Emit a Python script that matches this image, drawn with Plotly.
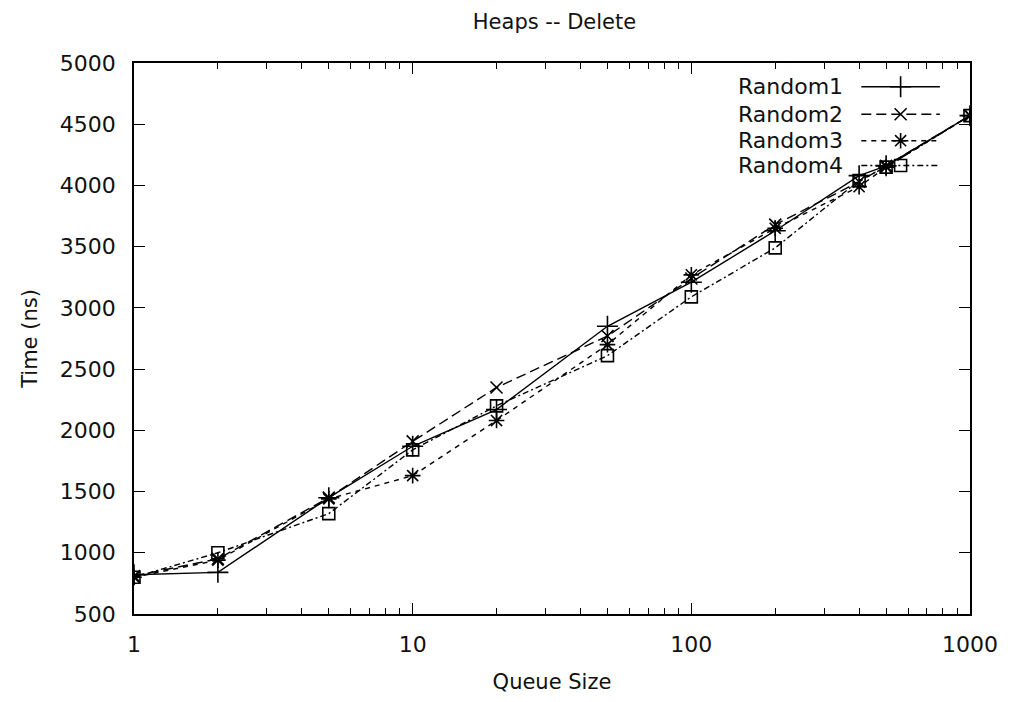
import plotly.graph_objects as go

# Queue sizes (log scale) and delete timings in nanoseconds
queue_sizes = [1, 2, 5, 10, 20, 50, 100, 200, 400, 500, 1000]
random1 = [820, 840, 1450, 1870, 2170, 2850, 3210, 3630, 4080, 4160, 4570]
random2 = [810, 950, 1450, 1910, 2350, 2770, 3240, 3680, 4030, 4160, 4570]
random3 = [800, 940, 1440, 1630, 2080, 2700, 3270, 3650, 3990, 4150, 4570]
random4 = [800, 1000, 1320, 1840, 2200, 2610, 3090, 3490, 4040, 4150, 4570]

series_names = ["Random1", "Random2", "Random3", "Random4"]
series_values = [random1, random2, random3, random4]

y_ticks = [500, 1000, 1500, 2000, 2500, 3000, 3500, 4000, 4500, 5000]
x_ticks = [1, 10, 100, 1000]
x_minor = [m * d for d in (1, 10, 100) for m in range(2, 10)]

FONT = "DejaVu Sans"
INK = "#111111"

styles = [
    dict(dash="solid", symbol="cross-thin-open", size=15),
    dict(dash="10px,5px", symbol="x-thin-open", size=12),
    dict(dash="5px,5px", symbol="asterisk-open", size=13),
    dict(dash="6px,3px,2px,3px", symbol="square-open", size=12),
]


def point_marker(st):
    return dict(symbol=st["symbol"], size=st["size"], color="black",
                line=dict(color="black", width=1.6))


fig = go.Figure()

for name, vals, st in zip(series_names, series_values, styles):
    fig.add_trace(go.Scatter(
        x=queue_sizes, y=vals, name=name, mode="lines+markers",
        line=dict(color="black", width=1.4, dash=st["dash"]),
        marker=point_marker(st),
        showlegend=False,
    ))

# Key in gnuplot style: label on the left, line sample with a point on the right
key_rows = [0.957, 0.907, 0.859, 0.814]
for name, st, ky in zip(series_names, styles, key_rows):
    fig.add_trace(go.Scatter(
        x=[0.870, 0.964], y=[ky, ky], mode="lines",
        line=dict(color="black", width=1.4, dash=st["dash"]),
        xaxis="x2", yaxis="y2", showlegend=False, hoverinfo="skip",
    ))
    fig.add_trace(go.Scatter(
        x=[0.917], y=[ky], mode="markers",
        marker=point_marker(st),
        xaxis="x2", yaxis="y2", showlegend=False, hoverinfo="skip",
    ))
    fig.add_annotation(
        text=name, x=0.851, y=ky, xref="paper", yref="paper",
        xanchor="right", yanchor="middle", showarrow=False,
        font=dict(family=FONT, size=22, color=INK),
    )

fig.update_layout(
    width=1010, height=702,
    margin=dict(l=134, r=35, t=63, b=85),
    paper_bgcolor="white", plot_bgcolor="white",
    font=dict(family=FONT, size=22, color=INK),
    title=dict(text="Heaps -- Delete", x=0.549, xanchor="center",
               y=1 - 22 / 702, yanchor="middle",
               font=dict(family=FONT, size=21, color=INK)),
    xaxis=dict(
        type="log", range=[0, 3],
        tickvals=x_ticks, ticktext=[str(v) for v in x_ticks],
        ticks="inside", ticklen=11, tickwidth=1.3, tickcolor="black",
        minor=dict(tickvals=x_minor, ticks="inside", ticklen=6,
                   tickwidth=1.2, tickcolor="black", showgrid=False),
        showline=True, linecolor="black", linewidth=1.5, mirror="allticks",
        showgrid=False, zeroline=False, ticklabelstandoff=10,
        title=dict(text="Queue Size", standoff=18,
                   font=dict(family=FONT, size=21, color=INK)),
    ),
    yaxis=dict(
        range=[500, 5000], tickvals=y_ticks,
        ticks="inside", ticklen=11, tickwidth=1.3, tickcolor="black",
        showline=True, linecolor="black", linewidth=1.5, mirror="allticks",
        showgrid=False, zeroline=False, ticklabelstandoff=12,
        title=dict(text="Time (ns)", standoff=16,
                   font=dict(family=FONT, size=21, color=INK)),
    ),
    xaxis2=dict(overlaying="x", range=[0, 1], visible=False),
    yaxis2=dict(overlaying="y", range=[0, 1], visible=False),
)

fig.write_html("out.html")
